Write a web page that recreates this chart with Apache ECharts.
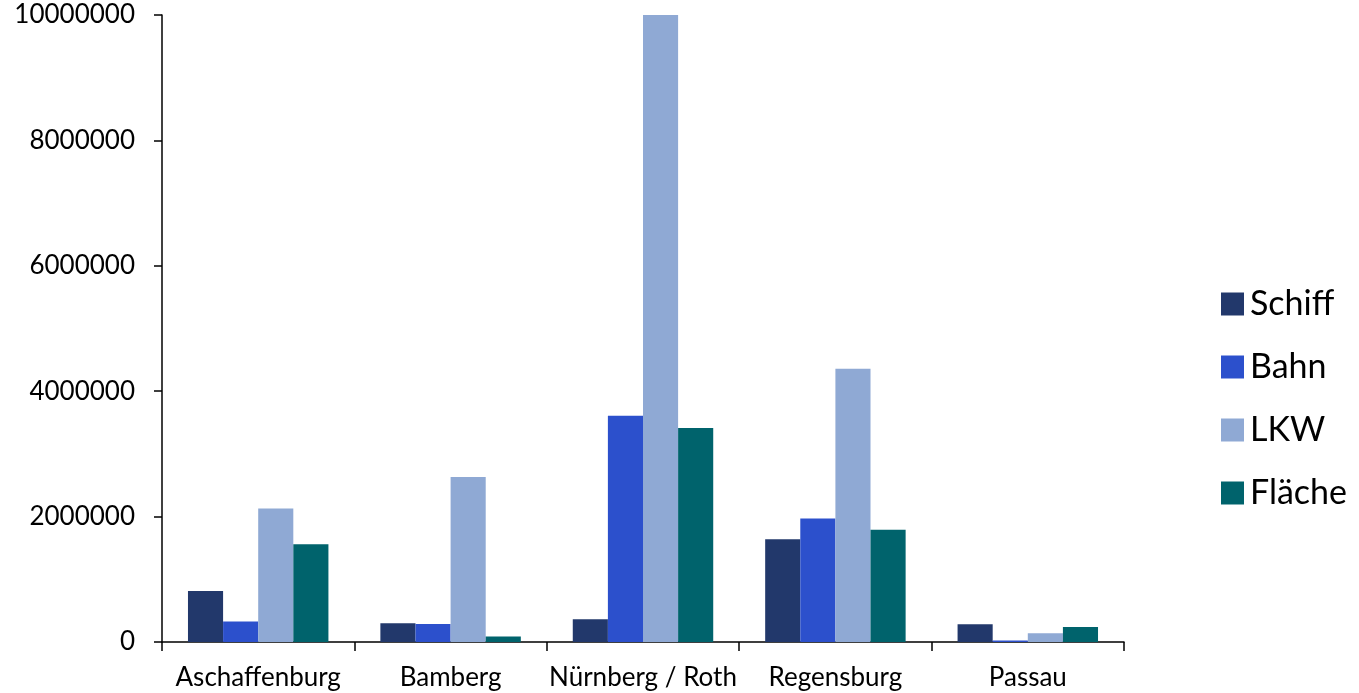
<!DOCTYPE html>
<html><head><meta charset="utf-8">
<script src="https://cdn.jsdelivr.net/npm/echarts@6/dist/echarts.min.js"></script>
<style>html,body{margin:0;padding:0;background:#fff}#c{width:1359px;height:693px}</style>
</head><body><div id="c"></div>
<script>
const categories = ['Aschaffenburg', 'Bamberg', 'Nürnberg / Roth', 'Regensburg', 'Passau'];
const seriesNames = ['Schiff', 'Bahn', 'LKW', 'Fläche'];
const schiff = [814000, 298000, 362000, 1640000, 282000];
const bahn = [326000, 287000, 3610000, 1970000, 22000];
const lkw = [2130000, 2630000, 10000000, 4360000, 139000];
const flaeche = [1560000, 86000, 3415000, 1790000, 239000];
const colors = ['#22386b', '#2c50cc', '#8fa9d4', '#00636c'];
const yTicks = [0, 2000000, 4000000, 6000000, 8000000, 10000000];

const values = [schiff, bahn, lkw, flaeche];
const font = 'Lato';
const chart = echarts.init(document.getElementById('c'), null, {renderer: 'canvas'});
chart.setOption({
  animation: false,
  backgroundColor: '#fff',
  color: colors,
  grid: {left: 162, right: 235, top: 15, bottom: 51, containLabel: false},
  legend: {
    orient: 'vertical', left: 1216, top: 282,
    itemWidth: 23, itemHeight: 23, itemGap: 29,
    icon: 'rect',
    textStyle: {fontFamily: font, fontSize: 34, color: '#000', padding: [0, 0, 0, 1]},
    data: seriesNames
  },
  xAxis: {
    type: 'category', data: categories,
    axisLine: {lineStyle: {color: '#000', width: 1.5}},
    axisTick: {show: true, length: 9, lineStyle: {color: '#000', width: 1.5}},
    axisLabel: {fontFamily: font, fontSize: 26, color: '#000', margin: 23, interval: 0}
  },
  yAxis: {
    type: 'value', min: yTicks[0], max: yTicks[yTicks.length - 1], interval: yTicks[1] - yTicks[0],
    axisLine: {show: true, lineStyle: {color: '#000', width: 1.5}},
    axisTick: {show: true, length: 8, lineStyle: {color: '#000', width: 1.5}},
    splitLine: {show: false},
    axisLabel: {fontFamily: font, fontSize: 26, color: '#000', margin: 27, formatter: v => String(v)}
  },
  series: seriesNames.map((n, i) => ({
    name: n, type: 'bar', data: values[i],
    barGap: '0%', barCategoryGap: '27%',
    itemStyle: {color: colors[i]}
  }))
});
</script></body></html>
